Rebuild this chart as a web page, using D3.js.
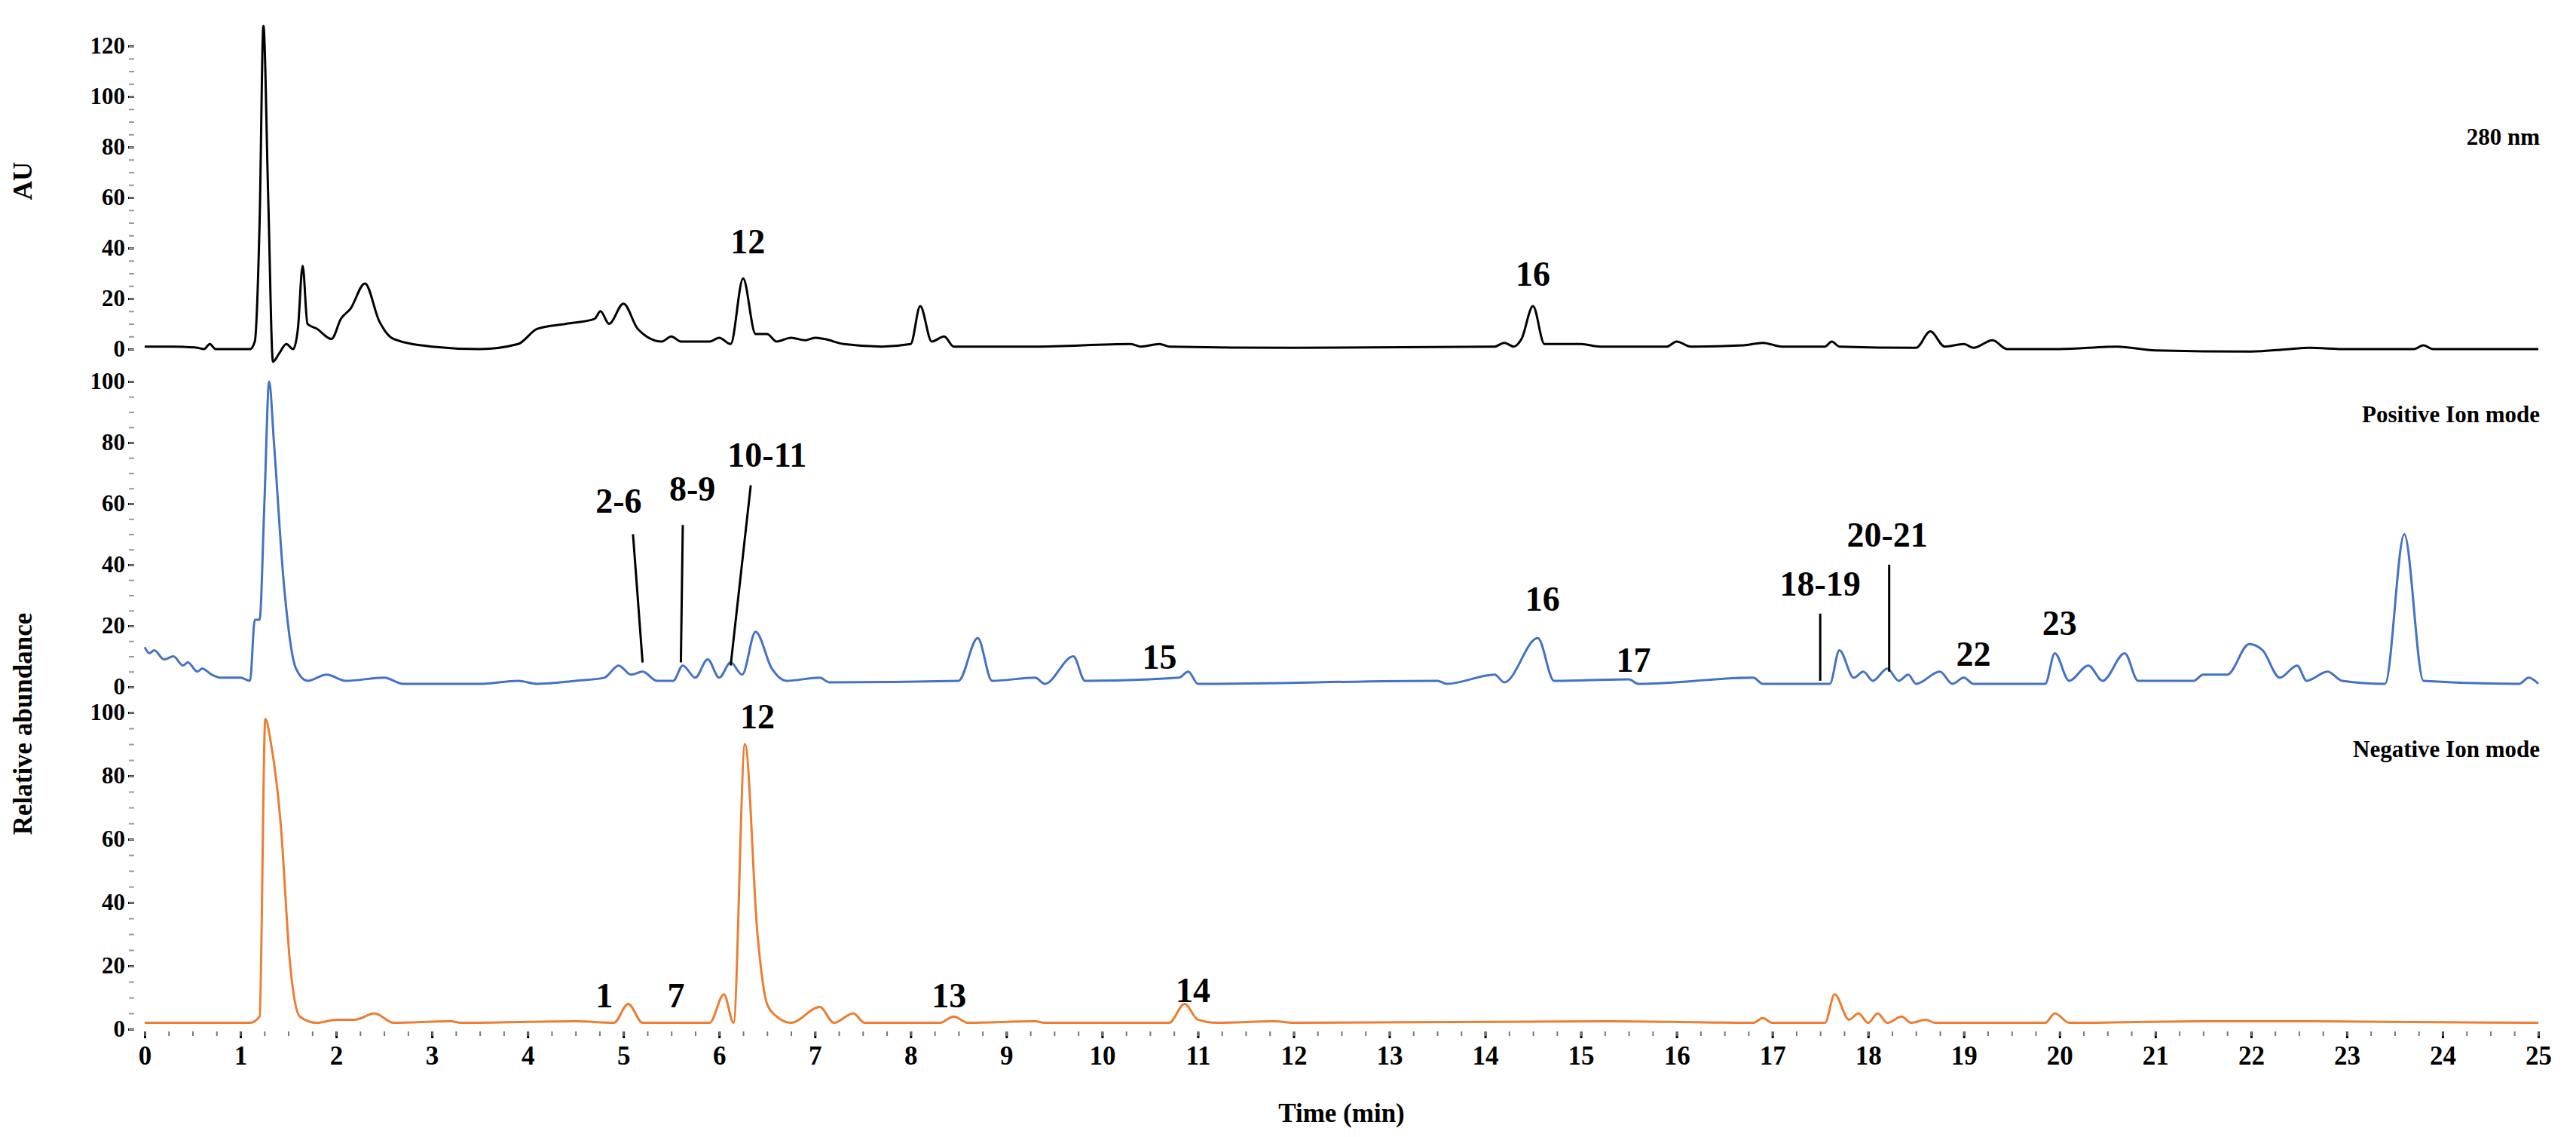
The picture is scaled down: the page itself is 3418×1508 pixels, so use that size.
<!DOCTYPE html>
<html>
<head>
<meta charset="utf-8">
<script src="https://cdn.jsdelivr.net/npm/d3@7"></script>
<style>
  body { margin: 0; background: #fff; }
  text { font-family: "Liberation Serif", "DejaVu Serif", serif; font-weight: bold; fill: #000; }
</style>
</head>
<body>
<svg id="chart" width="3418" height="1508"></svg>
<script>
// UV trace, 280 nm  [time (min), AU]
var uvTrace = [[0,1],[0.3,1],[0.55,0.5],[0.62,0],[0.68,2],[0.74,0],[1.1,0],[1.15,3],[1.2,50],[1.24,128],[1.29,60],[1.34,-5],[1.4,-2],
  [1.48,2],[1.55,0],[1.6,8],[1.65,33],[1.7,10],[1.8,8],[1.95,4],[2.05,12],[2.15,16],[2.3,26],[2.45,11],[2.6,4],[3,1],[3.5,0],[3.9,2],
  [4.1,8],[4.4,10],[4.7,12],[4.76,15],[4.85,10],[5.0,18],[5.15,8],[5.4,3],[5.5,5],[5.6,3],[5.9,3],[6.0,4.5],[6.12,2],[6.25,28],[6.38,6],
  [6.5,6],[6.6,3],[6.75,4.5],[6.9,3.5],[7.0,4.5],[7.1,4],[7.3,2],[7.7,1],[8.0,2],[8.1,17],[8.22,3],[8.35,5],[8.45,1],[9,1],[9.3,1],
  [10.3,2],[10.4,1],[10.6,2],[10.7,1],[12,0.5],[14.1,1],[14.2,2.5],[14.3,1],[14.38,4],[14.5,17],[14.62,2],[15,2],[15.2,1],[15.9,1],
  [16,3],[16.15,1],[16.7,1.5],[16.9,2.5],[17.1,1],[17.55,1],[17.62,3],[17.7,1],[18.5,0.5],[18.65,7],[18.8,1],[19.0,2],[19.1,0.5],[19.3,3.5],
  [19.45,0],[20,0],[20.6,1],[21,-0.5],[22,-1],[22.4,0],[22.6,0.5],[23,0],[23.7,0],[23.8,1.5],[23.9,0],[25,0]];

// Positive ion mode  [time (min), relative abundance]
var posTrace = [[0,13],[0.05,11],[0.1,12],[0.2,9],[0.3,10],[0.4,7],[0.45,8],[0.55,5],[0.6,6],[0.7,4],[0.8,3],[1.0,3],[1.1,2],
  [1.15,22],[1.2,22],[1.25,60],[1.3,100],[1.35,80],[1.45,35],[1.58,6],[1.7,2],[1.9,4],[2.1,2],[2.5,3],[2.7,1],[3.5,1],[3.9,2],[4.1,1],
  [4.5,2],[4.8,3],[4.95,7],[5.08,4],[5.2,5],[5.35,2],[5.52,2],[5.62,7],[5.75,3],[5.88,9],[6.0,3],[6.12,8],[6.24,4],[6.38,18],[6.55,6],
  [6.7,2],[7.05,3],[7.15,1.5],[8.5,2],[8.7,16],[8.85,2],[9.3,3],[9.4,1],[9.7,10],[9.82,2],[10.8,3],[10.9,5],[11.0,1],[13.5,2],[13.6,1],
  [14.1,4],[14.2,1.5],[14.55,16],[14.72,2],[15.5,2.5],[15.6,1],[16.8,3],[16.9,1],[17.6,1],[17.7,12],[17.85,3],[17.95,5],[18.05,2],
  [18.2,6],[18.32,2],[18.42,4],[18.5,1],[18.75,5],[18.88,1],[19.0,3],[19.1,1],[19.85,1],[19.95,11],[20.1,2],[20.3,7],[20.45,2],
  [20.68,11],[20.82,2],[21.4,2],[21.5,4],[21.75,4],[21.98,14],[22.12,12],[22.3,3],[22.48,7],[22.58,2],[22.8,5],[22.95,2],[23.4,1],
  [23.6,50],[23.8,2],[24.8,1],[24.9,3],[25,1]];

// Negative ion mode  [time (min), relative abundance]
var negTrace = [[0,2],[1.1,2],[1.2,4],[1.26,98],[1.32,90],[1.42,65],[1.52,20],[1.62,4],[1.8,2],[2.0,3],[2.2,3],[2.4,5],[2.6,2],
  [3.2,2.5],[3.3,2],[4.5,2.5],[4.9,2],[5.05,8],[5.2,2],[5.9,2],[6.05,11],[6.15,2],[6.27,90],[6.4,30],[6.5,8],[6.6,4],[6.75,2],
  [7.05,7],[7.2,2],[7.4,5],[7.52,2],[8.3,2],[8.45,4],[8.6,2],[9.3,2.5],[9.4,2],[10.7,2],[10.86,8],[11.0,3],[11.2,2],[11.8,2.5],
  [12.0,2],[15.3,2.5],[16.8,2],[16.9,3.5],[17.0,2],[17.55,2],[17.65,11],[17.8,3],[17.9,5],[18.0,2],[18.1,5],[18.2,2],[18.35,4],
  [18.45,2],[18.6,3],[18.7,2],[19.85,2],[19.95,5],[20.1,2],[21.5,2.5],[22.5,2.5],[25,2]];

// Peak labels: text, time, label value, optional leader line [from value, to value, from time, to time]
var uvLabels  = [{t:'12', x:6.3, y:38}, {t:'16', x:14.5, y:25}];
var posLabels = [{t:'2-6', x:4.95, y:57, line:[50,8,5.1,5.2]}, {t:'8-9', x:5.72, y:61, line:[53,8,5.62,5.6]},
  {t:'10-11', x:6.5, y:72, line:[66,7,6.33,6.12]}, {t:'15', x:10.6, y:6}, {t:'16', x:14.6, y:25}, {t:'17', x:15.55, y:5},
  {t:'18-19', x:17.5, y:30, line:[24,2,17.5,17.5]}, {t:'20-21', x:18.2, y:46, line:[40,5,18.22,18.22]},
  {t:'22', x:19.1, y:7}, {t:'23', x:20.0, y:17}];
var negLabels = [{t:'1', x:4.8, y:7}, {t:'7', x:5.55, y:7}, {t:'12', x:6.4, y:95}, {t:'13', x:8.4, y:7}, {t:'14', x:10.95, y:8.5}];

var timeTicks = d3.range(0, 26);

var svg = d3.select('#chart');
var x = d3.scaleLinear().domain([0, 25]).range([192, 3368]);
var axisX = 178;

var panels = [
    { data: uvTrace,  labels: uvLabels,  color: '#000000', y: d3.scaleLinear().domain([0, 120]).range([463, 61]), max: 120, tag: '280 nm', tagY: 192 }
  , { data: posTrace, labels: posLabels, color: '#4472C4', y: d3.scaleLinear().domain([0, 100]).range([911, 506]), max: 100, tag: 'Positive Ion mode', tagY: 560 }
  , { data: negTrace, labels: negLabels, color: '#ED7D31', y: d3.scaleLinear().domain([0, 100]).range([1365, 945]), max: 100, tag: 'Negative Ion mode', tagY: 1004 }
]

panels.forEach(function(p){
  // y axis with minor ticks
  var g = svg.append('g').attr('transform', 'translate(' + axisX + ',0)')
  g.call(d3.axisLeft(p.y).tickValues(d3.range(0, p.max + 1, 20)).tickSize(8).tickPadding(4))
  g.call(function(s){ s.select('.domain').remove() })
  g.selectAll('text').style('font-size', '31px')
  g.selectAll('line').attr('stroke-width', 3)
  svg.append('g').attr('transform', 'translate(' + axisX + ',0)')
    .call(d3.axisLeft(p.y).tickValues(d3.range(0, p.max + 1, 5)).tickSize(7).tickFormat(''))
    .call(function(s){ s.select('.domain').remove(); s.selectAll('line').attr('stroke', '#999').attr('stroke-width', 2) })

  // trace
  svg.append('path').datum(p.data)
    .attr('fill', 'none').attr('stroke', p.color).attr('stroke-width', 3).attr('stroke-linejoin', 'round')
    .attr('d', d3.line().curve(d3.curveMonotoneX).x(function(d){ return x(d[0]) }).y(function(d){ return p.y(d[1]) }))

  // peak labels
  p.labels.forEach(function(l){
    svg.append('text').attr('x', x(l.x)).attr('y', p.y(l.y)).attr('text-anchor', 'middle')
      .style('font-size', '46px').text(l.t)
    if (l.line) {
      svg.append('line').attr('x1', x(l.line[2])).attr('y1', p.y(l.line[0]))
        .attr('x2', x(l.line[3])).attr('y2', p.y(l.line[1])).attr('stroke', '#000').attr('stroke-width', 3)
    }
  })

  svg.append('text').attr('x', 3370).attr('y', p.tagY).attr('text-anchor', 'end')
    .style('font-size', '31px').text(p.tag)
})

// time axis
var gx = svg.append('g').attr('transform', 'translate(0,1368)')
gx.call(d3.axisBottom(x).tickValues(timeTicks).tickSize(9).tickPadding(10))
gx.select('.domain').remove()
gx.selectAll('text').style('font-size', '35px')
gx.selectAll('line').attr('stroke-width', 3)
svg.append('g').attr('transform', 'translate(0,1368)')
  .call(d3.axisBottom(x).tickValues(d3.range(0, 25.01, 0.25)).tickSize(6).tickFormat(''))
  .call(function(s){ s.select('.domain').remove(); s.selectAll('line').attr('stroke', '#777').attr('stroke-width', 2) })

svg.append('text').attr('x', (x(0) + x(25)) / 2).attr('y', 1488).attr('text-anchor', 'middle')
  .style('font-size', '35px').text('Time (min)')
svg.append('text').attr('transform', 'translate(42,240) rotate(-90)').attr('text-anchor', 'middle')
  .style('font-size', '35px').text('AU')
svg.append('text').attr('transform', 'translate(42,960) rotate(-90)').attr('text-anchor', 'middle')
  .style('font-size', '35px').text('Relative abundance')
</script>
</body>
</html>
